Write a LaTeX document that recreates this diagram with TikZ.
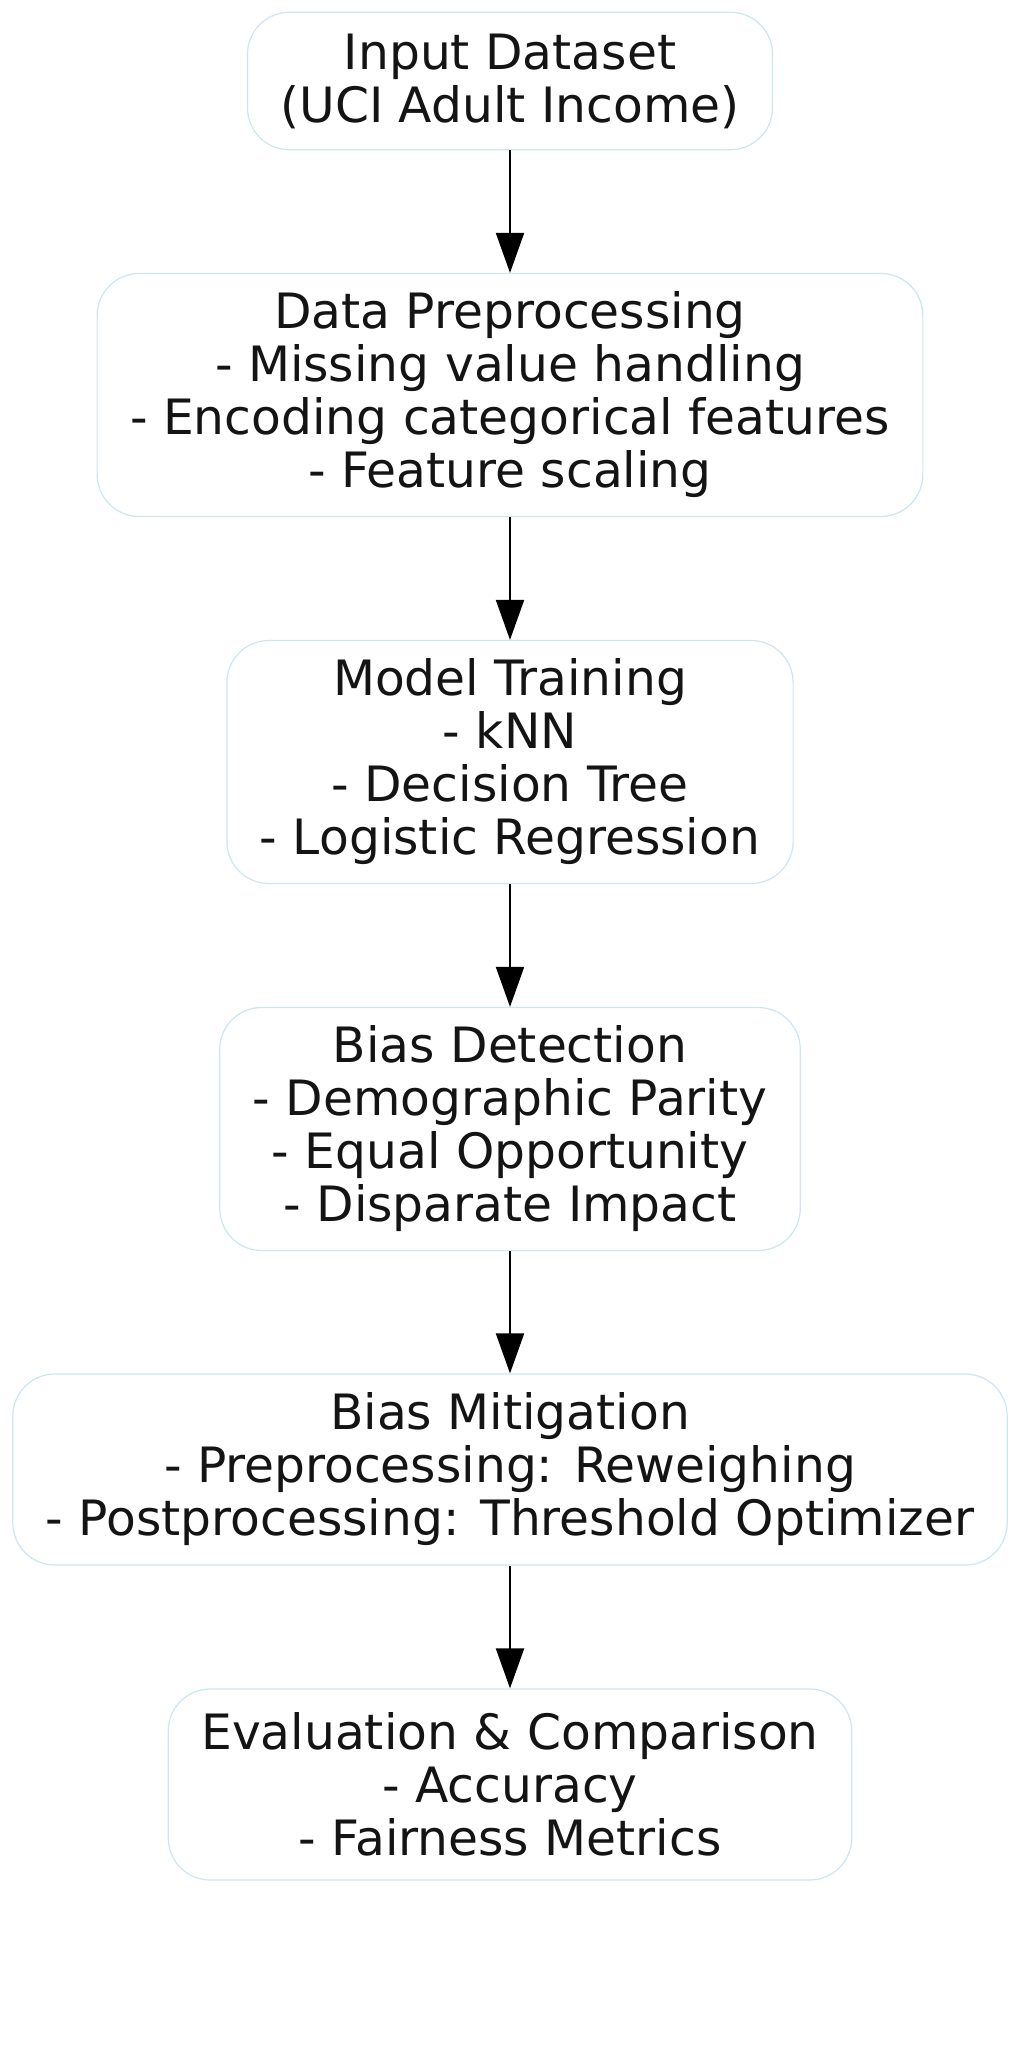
\documentclass[tikz,border=0pt]{standalone}
\usepackage{fontspec}
\setmainfont{DejaVu Sans}
\usetikzlibrary{arrows.meta}
\definecolor{boxline}{HTML}{CDE6EF}

\begin{document}
\begin{tikzpicture}
		[x=0.5pt,y=-0.5pt,
		stage/.style= {draw=boxline,line width=0.6pt,fill=white,rounded corners=21pt,align=center,inner xsep=16.5pt,inner ysep=4pt,font=\fontsize{24.35}{26.5}\selectfont,text=black!92},
		twoline/.style= {stage,minimum height=68.75pt},
		threeline/.style= {stage,minimum height=95.5pt},
		fourline/.style= {stage,minimum height=121.5pt},
		feed/.style= {{Triangle[length=20pt,width=14pt]}-,line width=1pt,draw=black}]

		\fill[white] (0,0) rectangle (1019,2048);
		\useasboundingbox (0,0) rectangle (1019,2048);

		\node[twoline] (input) at (510,81) {Input Dataset\\(UCI Adult Income)};

		\node[fourline] (prep) at (510,395) {Data Preprocessing\\- Missing value handling\\- Encoding categorical features\\- Feature scaling}
			edge [feed]	(input)
		;

		\node[fourline] (train) at (510,762) {Model Training\\- kNN\\- Decision Tree\\- Logistic Regression}
			edge [feed]	(prep)
		;

		\node[fourline] (detect) at (510,1129) {Bias Detection\\- Demographic Parity\\- Equal Opportunity\\- Disparate Impact}
			edge [feed]	(train)
		;

		\node[threeline] (mitig) at (510,1469.5) {Bias Mitigation\\- Preprocessing: Reweighing\\- Postprocessing: Threshold Optimizer}
			edge [feed]	(detect)
		;

		\node[threeline] (eval) at (510,1784.5) {Evaluation \& Comparison\\- Accuracy\\- Fairness Metrics}
			edge [feed]	(mitig)
		;

	\end{tikzpicture}
\end{document}
